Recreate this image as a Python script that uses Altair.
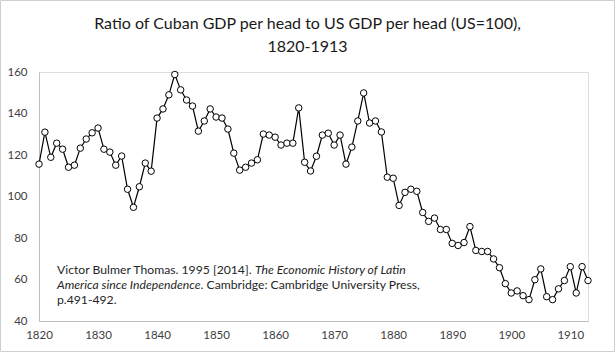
import altair as alt
import pandas as pd

years = list(range(1820, 1914))
ratio = [
    115.6, 131.0, 118.9, 125.7, 122.8, 114.1, 115.1, 123.3, 127.7, 130.7,
    133.0, 122.8, 121.4, 115.1, 119.5, 103.5, 94.8, 104.7, 116.1, 112.2,
    137.8, 142.2, 149.0, 158.8, 151.4, 146.5, 143.6, 131.5, 136.4, 142.2,
    138.3, 137.8, 132.5, 120.9, 112.7, 114.1, 116.1, 117.7, 130.1, 129.6,
    128.6, 124.8, 125.7, 125.7, 142.7, 116.5, 112.3, 119.4, 129.6, 130.5,
    124.8, 129.6, 115.6, 123.8, 136.4, 149.9, 135.4, 136.4, 131.1, 109.3,
    108.8, 95.7, 102.0, 103.5, 102.5, 92.3, 88.0, 89.6, 84.1, 84.1,
    77.4, 76.4, 77.8, 85.5, 74.0, 73.5, 73.5, 69.9, 65.7, 58.0,
    53.5, 54.5, 52.2, 50.3, 59.9, 65.1, 51.7, 50.3, 55.5, 59.5,
    66.2, 53.5, 66.2, 59.5,
]
x_ticks = list(range(1820, 1911, 10))
y_ticks = list(range(40, 161, 20))
title_lines = [
    ("Ratio of Cuban GDP per head to US GDP per head (US=100),", -42.7),
    ("1820-1913", -19.7),
]
note_pieces = [
    ("Victor Bulmer Thomas. 1995 [2014].", "normal", 18, 202),
    ("The Economic History of Latin", "italic", 216, 202),
    ("America since Independence", "italic", 18, 217),
    (". Cambridge: Cambridge University Press,", "normal", 161.5, 217),
    ("p.491-492.", "normal", 18, 232),
]

FONT = "Lato"
W, H = 549, 249

df = pd.DataFrame({"year": years, "ratio": ratio})
base = alt.Chart(df)

xenc = alt.X("year:Q", scale=alt.Scale(domain=[1820, 1913], nice=False, zero=False),
             axis=alt.Axis(values=x_ticks, format="d", title=None, grid=False, ticks=False,
                           labelFlush=False, domainColor="#bfbfbf", labelPadding=8,
                           labelFont=FONT, labelFontSize=11.5, labelColor="#404040"))
yenc = alt.Y("ratio:Q", scale=alt.Scale(domain=[40, 160], nice=False, zero=False),
             axis=alt.Axis(values=y_ticks, title=None, grid=False, ticks=False,
                           labelFlush=False, domainColor="#bfbfbf", labelPadding=12,
                           labelFont=FONT, labelFontSize=11.5, labelColor="#404040"))

line = base.mark_line(color="#000000", strokeWidth=1.2).encode(x=xenc, y=yenc)
pts = base.mark_point(shape="circle", filled=True, fill="white", stroke="#000000",
                      strokeWidth=1, size=42, opacity=1).encode(x="year:Q", y="ratio:Q")

border = alt.Chart(alt.Data(values=[{"k": 1}])).mark_rect(
    fillOpacity=0, stroke="#cfcfcf", strokeWidth=1
).encode(x=alt.value(-38.5), x2=alt.value(575.5), y=alt.value(-71.5), y2=alt.value(279.5))

titles = []
for txt, py in title_lines:
    titles.append(
        alt.Chart(alt.Data(values=[{"t": txt}])).mark_text(
            align="center", baseline="alphabetic", font=FONT, fontSize=16,
            color="#1a1a1a"
        ).encode(x=alt.value(268.5), y=alt.value(py), text="t:N")
    )

notes = []
for txt, style, px, py in note_pieces:
    notes.append(
        alt.Chart(alt.Data(values=[{"t": txt}])).mark_text(
            align="left", baseline="alphabetic", font=FONT, fontSize=12.2,
            fontStyle=style, color="#262626"
        ).encode(x=alt.value(px), y=alt.value(py), text="t:N")
    )

chart = alt.layer(border, line, pts, *titles, *notes).properties(
    width=W, height=H,
    autosize=alt.AutoSizeParams(type="none"),
    padding={"left": 39, "top": 72, "right": 27, "bottom": 31},
).configure_view(stroke=None).configure(background="white")

chart.save("out.html", embed_options={"renderer": "svg", "actions": False})
